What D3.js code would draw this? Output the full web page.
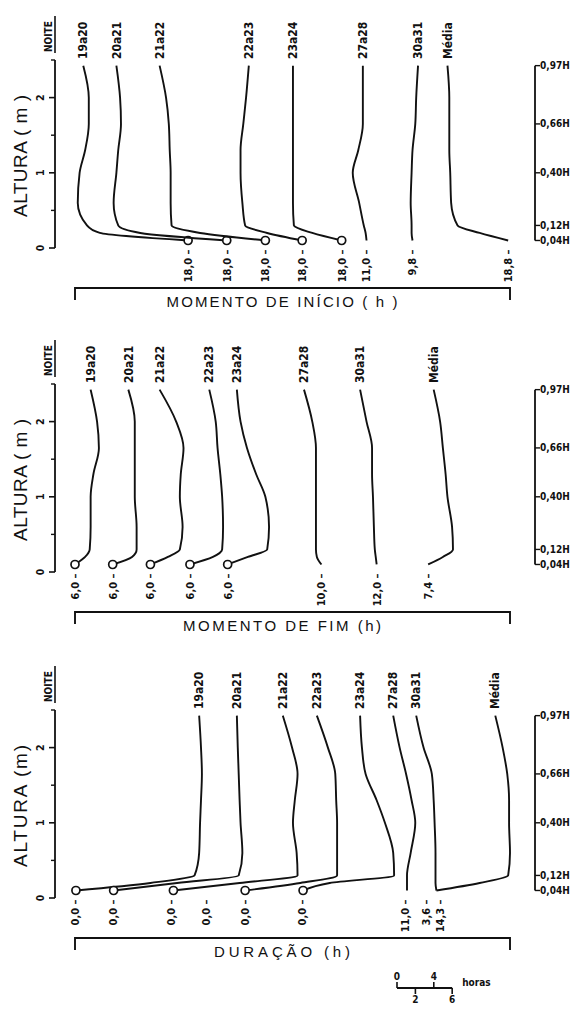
<!DOCTYPE html>
<html lang="pt">
<head>
<meta charset="utf-8">
<title>Perfis de orvalho</title>
<script src="https://cdn.jsdelivr.net/npm/d3@7"></script>
<style>
  body { margin: 0; background: #fff; }
  svg text { font-family: "DejaVu Sans Condensed", "DejaVu Sans", sans-serif; fill: #111; }
  svg text.big { font-family: "Liberation Sans", Arial, sans-serif; font-weight: normal; }
</style>
</head>
<body>
<script>
// noites e alturas de leitura (m)
var nights = ["19a20", "20a21", "21a22", "22a23", "23a24", "27a28", "30a31", "Média"];
var heights = [0.1, 0.2, 0.3, 0.6, 1.0, 1.3, 1.65, 2.0, 2.425];
var circled = [true, true, true, true, true, false, false, false];

// posicao horizontal de cada perfil (horas, eixo comum) em cada altura
var inicio = [
  [12.3, 2.7, 1.3, 0.3, 0.5, 1.1, 1.5, 1.5, 0.9],
  [16.5, 7.1, 4.7, 4.2, 4.5, 4.7, 5.0, 4.9, 4.5],
  [20.7, 13.6, 10.5, 10.4, 10.4, 10.3, 10.2, 9.9, 9.2],
  [24.7, 20.9, 18.5, 18.2, 18.0, 18.0, 18.3, 18.6, 18.9],
  [29.0, 25.8, 23.8, 23.7, 23.7, 23.7, 23.7, 23.7, 23.7],
  [31.7, 31.6, 31.4, 30.9, 30.2, 30.8, 31.3, 31.3, 31.3],
  [36.7, 36.6, 36.6, 36.5, 36.6, 36.7, 37.0, 37.1, 37.3],
  [47.1, 44.0, 41.6, 40.9, 40.8, 40.7, 40.7, 40.7, 40.5]
];
var fim = [
  [0.0, 1.1, 1.6, 1.7, 1.7, 2.0, 2.6, 2.4, 1.7],
  [4.1, 6.2, 6.7, 6.7, 6.5, 6.5, 6.5, 6.5, 5.8],
  [8.2, 10.1, 11.4, 11.7, 11.4, 11.5, 11.8, 11.0, 9.2],
  [12.5, 15.0, 16.0, 16.1, 16.0, 15.8, 15.5, 15.3, 14.6],
  [16.6, 18.8, 20.9, 21.1, 20.7, 19.7, 18.7, 18.0, 17.6],
  [26.8, 26.3, 26.2, 26.2, 26.2, 26.2, 26.2, 25.8, 24.9],
  [32.8, 32.7, 32.6, 32.5, 32.4, 32.3, 32.3, 31.7, 31.0],
  [38.4, 40.0, 41.1, 41.0, 40.5, 40.3, 40.0, 39.7, 39.0]
];
var duracao = [
  [0.1, 8.2, 13.0, 13.5, 13.6, 13.7, 13.8, 13.7, 13.5],
  [4.2, 11.1, 17.8, 18.2, 18.0, 17.9, 17.8, 17.7, 17.6],
  [10.7, 17.9, 24.2, 24.1, 23.7, 23.9, 24.2, 23.6, 22.6],
  [18.5, 24.5, 28.5, 28.5, 28.5, 28.4, 28.3, 27.5, 26.3],
  [24.8, 27.7, 34.7, 34.6, 33.7, 32.8, 31.6, 31.2, 31.0],
  [36.1, 36.1, 36.1, 36.5, 37.0, 36.6, 36.0, 35.3, 34.6],
  [39.3, 39.2, 39.2, 39.2, 39.1, 39.0, 38.8, 37.9, 37.1],
  [39.3, 44.0, 47.1, 47.3, 47.2, 47.2, 47.0, 46.5, 45.7]
];

// valores escritos na base de cada perfil
var inicioLabels = ["18,0", "18,0", "18,0", "18,0", "18,0", "11,0", "9,8", "18,8"];
var inicioLabelPos = [12.3, 16.5, 20.7, 24.7, 29.0, 31.7, 36.7, 47.1];
var fimLabels = ["6,0", "6,0", "6,0", "6,0", "6,0", "10,0", "12,0", "7,4"];
var fimLabelPos = [0.0, 4.1, 8.2, 12.5, 16.6, 26.8, 32.8, 38.4];
var duracaoLabels = ["0,0", "0,0", "0,0", "0,0", "0,0", "0,0", "11,0", "3,6", "14,3"];
var duracaoLabelPos = [0.0, 4.1, 10.5, 14.3, 18.5, 24.7, 35.9, 38.2, 39.7];

var yTicks = [0, 1, 2];
var yMinor = [0.5, 1.5, 2.5];
var hFractions = [0.97, 0.66, 0.40, 0.12, 0.04];
var hLabels = ["0,97H", "0,66H", "0,40H", "0,12H", "0,04H"];
var H = 2.5;
var scaleTicks = [0, 2, 4, 6];

var panels = [
  { y0: 248, data: inicio, labels: inicioLabels, labelPos: inicioLabelPos,
    title: "MOMENTO  DE  INÍCIO  ( h )", titleW: 231, ytitle: "ALTURA ( m )" },
  { y0: 572, data: fim, labels: fimLabels, labelPos: fimLabelPos,
    title: "MOMENTO  DE  FIM  (h)", titleW: 198, ytitle: "ALTURA ( m )" },
  { y0: 898, data: duracao, labels: duracaoLabels, labelPos: duracaoLabelPos,
    title: "DURAÇÃO  (h)", titleW: 136, ytitle: "ALTURA (m)" }
];

var W = 584, Hpx = 1009;
var svg = d3.select("body").append("svg")
    .attr("width", W).attr("height", Hpx);

var x = d3.scaleLinear().domain([0, 47.3]).range([75, 510]);
var y = d3.scaleLinear().domain([0, 2.5]).range([0, -188]);

var line = d3.line()
    .x(function(d) { return x(d[0]); })
    .y(function(d) { return y(d[1]); })
    .curve(d3.curveMonotoneY);

function rotText(g, tx, ty, str, anchor, size, weight) {
  return g.append("text")
      .attr("transform", "translate(" + tx + "," + ty + ") rotate(-90)")
      .attr("text-anchor", anchor)
      .attr("dy", "0.35em")
      .style("font-size", size + "px")
      .style("font-weight", weight || "bold")
      .text(str);
}

panels.forEach(function(p) {
  var g = svg.append("g").attr("transform", "translate(0," + p.y0 + ")");

  // eixo das alturas
  g.append("line").attr("x1", 55).attr("x2", 55)
      .attr("y1", y(0)).attr("y2", y(2.5))
      .attr("stroke", "#111").attr("stroke-width", 1.8);
  yTicks.forEach(function(t) {
    g.append("line").attr("x1", 49).attr("x2", 55)
        .attr("y1", y(t)).attr("y2", y(t))
        .attr("stroke", "#111").attr("stroke-width", 1.6);
    rotText(g, 40, y(t), String(t), "middle", 10.5);
  });
  yMinor.forEach(function(t) {
    g.append("line").attr("x1", 51).attr("x2", 55)
        .attr("y1", y(t)).attr("y2", y(t))
        .attr("stroke", "#111").attr("stroke-width", 1.4);
  });

  // NOITE
  rotText(g, 48, y(2.5) - 8, "NOITE", "start", 10);
  g.append("line").attr("x1", 55).attr("x2", 55)
      .attr("y1", y(2.5) - 7).attr("y2", y(2.5) - 44)
      .attr("stroke", "#111").attr("stroke-width", 1.6);

  // ALTURA
  g.append("text").attr("class", "big")
      .attr("transform", "translate(20," + (-92) + ") rotate(-90)")
      .attr("text-anchor", "middle").attr("dy", "0.35em")
      .attr("textLength", 122).attr("lengthAdjust", "spacing")
      .style("font-size", "19px")
      .text(p.ytitle);

  // perfis
  p.data.forEach(function(vals, i) {
    var pts = vals.map(function(v, k) { return [v, heights[k]]; });
    g.append("path").datum(pts)
        .attr("d", line)
        .attr("fill", "none")
        .attr("stroke", "#111")
        .attr("stroke-width", 1.9);
    if (circled[i]) {
      g.append("circle")
          .attr("cx", x(vals[0])).attr("cy", y(heights[0]))
          .attr("r", 4)
          .attr("fill", "#fff").attr("stroke", "#111").attr("stroke-width", 1.7);
    }
    var top = vals[vals.length - 1];
    rotText(g, x(top), y(2.5) - 1, nights[i], "start", 12);
  });

  // valores na base
  p.labels.forEach(function(t, i) {
    rotText(g, x(p.labelPos[i]), y(0.1) + 9, t + " –", "end", 11);
  });

  // eixo horizontal
  var yb = 40;
  g.append("path")
      .attr("d", "M" + x(0) + "," + (yb + 12) + "V" + yb + "H" + x(47.3) + "V" + (yb + 12))
      .attr("fill", "none").attr("stroke", "#111").attr("stroke-width", 1.9);
  g.append("text").attr("class", "big")
      .attr("x", 282).attr("y", yb + 19)
      .attr("text-anchor", "middle")
      .attr("textLength", p.titleW).attr("lengthAdjust", "spacing")
      .style("font-size", "15px")
      .text(p.title);

  // escala da direita (fracao de H)
  var xr = 535;
  g.append("line").attr("x1", xr).attr("x2", xr)
      .attr("y1", y(0.97 * H)).attr("y2", y(0.04 * H))
      .attr("stroke", "#111").attr("stroke-width", 1.8);
  hFractions.forEach(function(f, i) {
    g.append("line").attr("x1", xr).attr("x2", xr + 5)
        .attr("y1", y(f * H)).attr("y2", y(f * H))
        .attr("stroke", "#111").attr("stroke-width", 1.4);
    g.append("text").attr("x", xr + 5).attr("y", y(f * H))
        .attr("dy", "0.35em")
        .style("font-size", "10px").style("font-weight", "bold")
        .text(hLabels[i]);
  });
});

// barra de escala em horas
var sx = d3.scaleLinear().domain([0, 6]).range([397, 397 + (x(6) - x(0))]);
var sy = 988;
var sg = svg.append("g");
sg.append("line").attr("x1", sx(0)).attr("x2", sx(6)).attr("y1", sy).attr("y2", sy)
    .attr("stroke", "#111").attr("stroke-width", 1.8);
scaleTicks.forEach(function(t, i) {
  var up = (i % 2 === 0);
  sg.append("line").attr("x1", sx(t)).attr("x2", sx(t))
      .attr("y1", sy).attr("y2", up ? sy - 6 : sy + 6)
      .attr("stroke", "#111").attr("stroke-width", 1.6);
  sg.append("text").attr("x", sx(t)).attr("y", up ? sy - 8 : sy + 15)
      .attr("text-anchor", "middle")
      .style("font-size", "10px").style("font-weight", "bold")
      .text(t);
});
sg.append("text").attr("x", sx(6) + 10).attr("y", sy - 2)
    .style("font-size", "10px").style("font-weight", "bold")
    .text("horas");
</script>
</body>
</html>
